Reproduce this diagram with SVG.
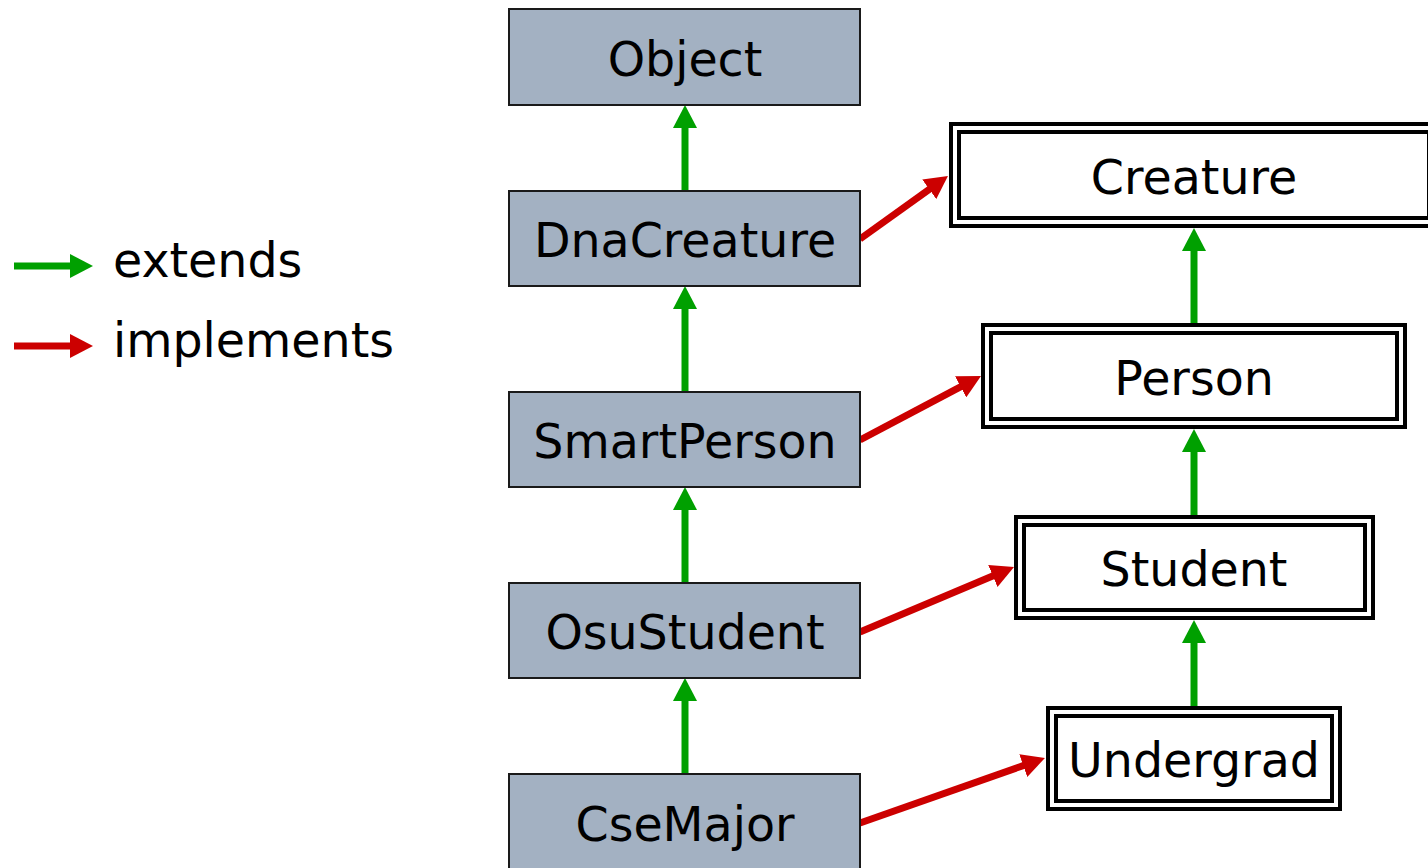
<svg xmlns="http://www.w3.org/2000/svg" width="1428" height="868" viewBox="0 0 1428 868">
  <style>
    .cls { fill: #a3b1c2; stroke: #1a1a1a; stroke-width: 2; }
    .ifo { fill: #ffffff; stroke: #000000; stroke-width: 4; }
    .ifi { fill: none; stroke: #000000; stroke-width: 4; }
    .lbl { font-family: "DejaVu Sans", "Noto Sans", sans-serif; font-size: 47.5px; fill: #000000; text-anchor: middle; }
    .leg { font-family: "DejaVu Sans", "Noto Sans", sans-serif; font-size: 47.5px; fill: #000000; }
    .ext { stroke: #00a000; stroke-width: 7; fill: none; marker-end: url(#headG); }
    .imp { stroke: #cc0000; stroke-width: 7; fill: none; marker-end: url(#headR); }
  </style>
  <defs>
    <marker id="headG" viewBox="0 -12 23 24" markerWidth="23" markerHeight="24" refX="3" refY="0" orient="auto" markerUnits="userSpaceOnUse">
      <path d="M0,-12 L23,0 L0,12 z" fill="#00a000"/>
    </marker>
    <marker id="headR" viewBox="0 -12 23 24" markerWidth="23" markerHeight="24" refX="3" refY="0" orient="auto" markerUnits="userSpaceOnUse">
      <path d="M0,-12 L23,0 L0,12 z" fill="#cc0000"/>
    </marker>
  </defs>

  <!-- legend -->
  <g id="legend">
    <line class="ext" x1="14" y1="266" x2="73" y2="266"/>
    <text class="leg" x="113" y="277">extends</text>
    <line class="imp" x1="14" y1="346" x2="73" y2="346"/>
    <text class="leg" x="113" y="357">implements</text>
  </g>

  <!-- connectors -->
  <g id="connectors">
    <!-- extends: class chain -->
    <line class="ext" x1="685" y1="191" x2="685" y2="125"/>
    <line class="ext" x1="685" y1="392" x2="685" y2="306"/>
    <line class="ext" x1="685" y1="583" x2="685" y2="507"/>
    <line class="ext" x1="685" y1="774" x2="685" y2="698"/>
    <!-- extends: interface chain -->
    <line class="ext" x1="1194" y1="323" x2="1194" y2="248"/>
    <line class="ext" x1="1194" y1="515" x2="1194" y2="449"/>
    <line class="ext" x1="1194" y1="706" x2="1194" y2="640"/>
    <!-- implements -->
    <line class="imp" x1="860" y1="239" x2="931.7" y2="187.6"/>
    <line class="imp" x1="860" y1="440" x2="963.3" y2="385.4"/>
    <line class="imp" x1="860" y1="632" x2="995.6" y2="574.8"/>
    <line class="imp" x1="860" y1="823" x2="1026.1" y2="764.6"/>
  </g>

  <!-- classes -->
  <g id="Object">
    <rect class="cls" x="509" y="9" width="351" height="96"/>
    <text class="lbl" x="685" y="76">Object</text>
  </g>
  <g id="DnaCreature">
    <rect class="cls" x="509" y="191" width="351" height="95"/>
    <text class="lbl" x="685" y="257">DnaCreature</text>
  </g>
  <g id="SmartPerson">
    <rect class="cls" x="509" y="392" width="351" height="95"/>
    <text class="lbl" x="685" y="458">SmartPerson</text>
  </g>
  <g id="OsuStudent">
    <rect class="cls" x="509" y="583" width="351" height="95"/>
    <text class="lbl" x="685" y="649">OsuStudent</text>
  </g>
  <g id="CseMajor">
    <rect class="cls" x="509" y="774" width="351" height="100"/>
    <text class="lbl" x="685" y="841">CseMajor</text>
  </g>

  <!-- interfaces -->
  <g id="Creature">
    <rect class="ifo" x="951" y="124" width="486" height="102"/>
    <rect class="ifi" x="959" y="132" width="470" height="86"/>
    <text class="lbl" x="1194" y="194">Creature</text>
  </g>
  <g id="Person">
    <rect class="ifo" x="983" y="325" width="422" height="102"/>
    <rect class="ifi" x="991" y="333" width="406" height="86"/>
    <text class="lbl" x="1194" y="395">Person</text>
  </g>
  <g id="Student">
    <rect class="ifo" x="1016" y="517" width="357" height="101"/>
    <rect class="ifi" x="1024" y="525" width="341" height="85"/>
    <text class="lbl" x="1194" y="586">Student</text>
  </g>
  <g id="Undergrad">
    <rect class="ifo" x="1048" y="708" width="292" height="101"/>
    <rect class="ifi" x="1056" y="716" width="276" height="85"/>
    <text class="lbl" x="1194" y="777">Undergrad</text>
  </g>
</svg>
